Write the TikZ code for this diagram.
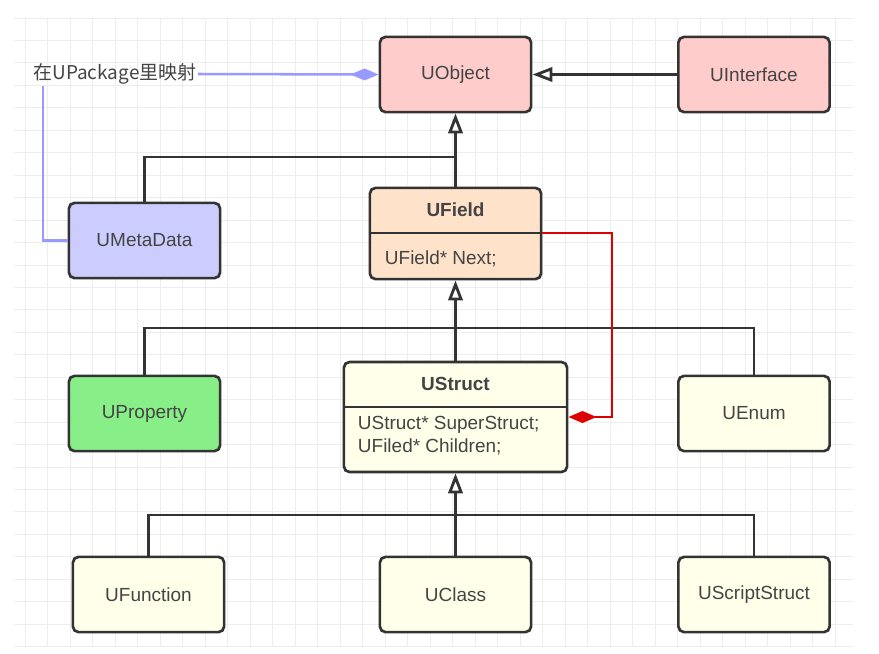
\documentclass[tikz,border=0pt]{standalone}
\usepackage{fontspec}
\setmainfont{Liberation Sans}
\newfontfamily\cjk{Noto Sans CJK SC}
\usetikzlibrary{arrows.meta}
\definecolor{border}{HTML}{333333}
\definecolor{txt}{HTML}{444444}
\definecolor{pinkfill}{HTML}{FFCCCC}
\definecolor{bluefill}{HTML}{CCCCFF}
\definecolor{peachfill}{HTML}{FFE2CA}
\definecolor{greenfill}{HTML}{88EE88}
\definecolor{yellowfill}{HTML}{FFFFEA}
\definecolor{assocblue}{HTML}{9999FF}
\definecolor{compred}{HTML}{DD0000}

\begin{document}
\begin{tikzpicture}[x=0.025cm,y=-0.025cm]%

\useasboundingbox (0,0) rectangle (879,653);

% background grid
\draw[gray!14, line width=0.6pt] \foreach \k in {0,...,36} {
    (25+22.5*\k,18) -- (25+22.5*\k,647)};
\draw[gray!14, line width=0.6pt] \foreach \k in {0,...,28} {
    (14,18+22.45*\k) -- (853,18+22.45*\k)};

  \tikzstyle{cls}=[draw=border, line width=1.9pt, rounded corners=4pt,
      minimum width=3.78cm, minimum height=1.88cm, text=txt,
      font=\fontsize{13.5}{16}\selectfont]
  \tikzstyle{member}=[text=txt, font=\fontsize{13.5}{16.4}\selectfont]
  \tikzstyle{link}=[draw=border, line width=2pt]
  \tikzstyle{inherit}=[link, -{Triangle[open, fill=white, length=0.5cm, width=0.36cm]}]
  \tikzstyle{assoc}=[draw=assocblue, line width=1.8pt]
  \tikzstyle{comp}=[draw=compred, line width=1.8pt,
      -{Diamond[length=0.7cm, width=0.3cm, fill=compred]}]

\node[cls, fill=pinkfill] (uobject) at (455.5,74.5) {UObject};
\node[cls, fill=pinkfill] (uinterface) at (754,74.5) {UInterface};
\node[cls, fill=bluefill] (umeta) at (144.5,240.5) {UMetaData};

\node[cls, fill=peachfill, minimum width=4.28cm, minimum height=2.28cm] (ufield) at (455.5,233.5) {};
\coordinate (ufieldsep) at (455.5,233);
\node[member] (ufieldname) at (455.5,210) {\bfseries UField};
\node[member, anchor=west] (ufieldnext) at (380,259) {UField* Next;};

\node[cls, fill=greenfill] (uprop) at (144.5,413.5) {UProperty};
\node[cls, fill=yellowfill, minimum width=5.58cm, minimum height=2.75cm] (ustruct) at (455.5,417) {};
\coordinate (ustructsep) at (455.5,407);
\node[member] (ustructname) at (455.5,384) {\bfseries UStruct};
\node[member, anchor=west, align=left] (ustructmembers) at (353,436) {UStruct* SuperStruct;\\UFiled* Children;};
\node[cls, fill=yellowfill] (uenum) at (754,413.5) {UEnum};

\node[cls, fill=yellowfill] (ufunc) at (148.5,594.5) {UFunction};
\node[cls, fill=yellowfill] (uclass) at (455.5,594.5) {UClass};
\node[cls, fill=yellowfill] (uscript) at (754,594.5) {UScriptStruct};

\draw[link] (ufield.west |- ufieldsep) -- (ufield.east |- ufieldsep);
\draw[link] (ustruct.west |- ustructsep) -- (ustruct.east |- ustructsep);

\node[text=txt, inner sep=1pt, font=\cjk\fontsize{13.5}{16}\selectfont] (pkg) at (115,74) {在UPackage里映射};
\coordinate (pkgcorner) at (43,74);

% inheritance
\coordinate (join1) at (455.5,157);
\coordinate (join2) at (455.5,328);
\coordinate (join3) at (455.5,515);
\draw[inherit] (uinterface) -- (uobject);
\draw[inherit] (ufield.north) -- (uobject.south);
\draw[link] (umeta.north) |- (join1);
\draw[inherit] (ustruct.north) -- (ufield.south);
\draw[link] (uprop.north) |- (join2);
\draw[link] (uenum.north) |- (join2);
\draw[inherit] (uclass.north) -- (ustruct.south);
\draw[link] (ufunc.north) |- (join3);
\draw[link] (uscript.north) |- (join3);

% association / composition
\draw[assoc] (umeta.west) -| (pkg.south -| pkgcorner);
\draw[assoc, -{Diamond[length=0.7cm, width=0.3cm, fill=assocblue]}] (pkg.east) -- (uobject.west);
\coordinate (redturn) at (612,233);
\draw[comp] (ufieldsep -| ufield.east) -- (redturn) |- (ustruct.east);

\end{tikzpicture}
\end{document}
